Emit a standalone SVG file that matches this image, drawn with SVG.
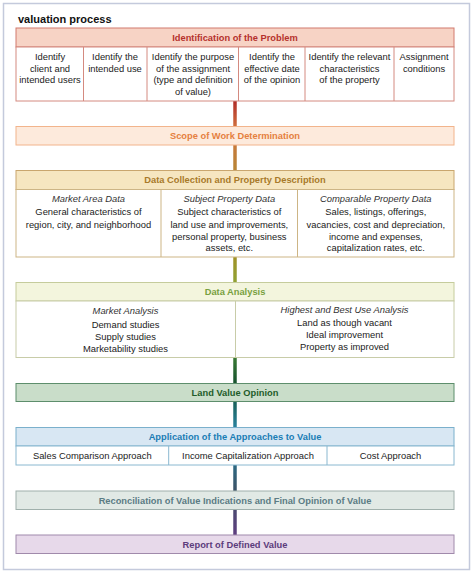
<svg xmlns="http://www.w3.org/2000/svg" width="474" height="574" viewBox="0 0 474 574">
<defs>
<linearGradient id="flow" gradientUnits="userSpaceOnUse" x1="0" y1="101" x2="0" y2="535">
<stop offset="0" stop-color="#b02c28"/>
<stop offset="0.06" stop-color="#d0703e"/>
<stop offset="0.16" stop-color="#b88636"/>
<stop offset="0.36" stop-color="#a09228"/>
<stop offset="0.44" stop-color="#8aa838"/>
<stop offset="0.59" stop-color="#3a7a34"/>
<stop offset="0.65" stop-color="#17532e"/>
<stop offset="0.70" stop-color="#1a6460"/>
<stop offset="0.76" stop-color="#2c86a8"/>
<stop offset="0.84" stop-color="#2c6882"/>
<stop offset="0.90" stop-color="#3e5266"/>
<stop offset="1" stop-color="#5e3e80"/>
</linearGradient>
</defs>
<style>
.t{font-family:"Liberation Sans",Arial,sans-serif;font-size:9.4px;fill:#222;text-anchor:middle}
.i{font-style:italic;fill:#333}
.h{font-family:"Liberation Sans",Arial,sans-serif;font-size:9.3px;font-weight:bold;text-anchor:middle}
.title{font-family:"Liberation Sans",Arial,sans-serif;font-size:11px;font-weight:bold;fill:#111}
.c{stroke:url(#flow);stroke-width:3.5;fill:none}
</style>
<rect x="3.5" y="3.5" width="466" height="566" fill="#fff" stroke="#c4cadc" stroke-width="1.5"/>
<text class="title" x="18" y="23">valuation process</text>

<g id="connectors">
<line class="c" x1="235" y1="101" x2="235" y2="127"/>
<line class="c" x1="235" y1="145" x2="235" y2="171"/>
<line class="c" x1="235" y1="257" x2="235" y2="283"/>
<line class="c" x1="235" y1="357" x2="235" y2="384"/>
<line class="c" x1="235" y1="401" x2="235" y2="428"/>
<line class="c" x1="235" y1="465" x2="235" y2="491"/>
<line class="c" x1="235" y1="509" x2="235" y2="535"/>
</g>

<g id="identification">
<rect x="16" y="28" width="438" height="19" fill="#f7d3c5" stroke="#d27a6e"/>
<text class="h" x="235" y="40.5" fill="#b5312c">Identification of the Problem</text>
<rect x="16" y="47" width="438" height="54" fill="#fff" stroke="#d48a80"/>
<g stroke="#d48a80">
<line x1="83.5" y1="47" x2="83.5" y2="101"/>
<line x1="147" y1="47" x2="147" y2="101"/>
<line x1="238.5" y1="47" x2="238.5" y2="101"/>
<line x1="305" y1="47" x2="305" y2="101"/>
<line x1="394" y1="47" x2="394" y2="101"/>
</g>
<text class="t" x="50" y="60">Identify</text>
<text class="t" x="50" y="71.5">client and</text>
<text class="t" x="50" y="83">intended users</text>
<text class="t" x="115" y="60">Identify the</text>
<text class="t" x="115" y="71.5">intended use</text>
<text class="t" x="193" y="60">Identify the purpose</text>
<text class="t" x="193" y="71.5">of the assignment</text>
<text class="t" x="193" y="83">(type and definition</text>
<text class="t" x="193" y="94.5">of value)</text>
<text class="t" x="272" y="60">Identify the</text>
<text class="t" x="272" y="71.5">effective date</text>
<text class="t" x="272" y="83">of the opinion</text>
<text class="t" x="349.5" y="60">Identify the relevant</text>
<text class="t" x="349.5" y="71.5">characteristics</text>
<text class="t" x="349.5" y="83">of the property</text>
<text class="t" x="424" y="60">Assignment</text>
<text class="t" x="424" y="71.5">conditions</text>
</g>

<g id="scope">
<rect x="16" y="126.5" width="438" height="18.5" fill="#fdeadc" stroke="#f2b48c"/>
<text class="h" x="235" y="139" fill="#e58040">Scope of Work Determination</text>
</g>

<g id="data-collection">
<rect x="16" y="170.5" width="438" height="19" fill="#f6e6c0" stroke="#c9a66e"/>
<text class="h" x="235" y="183" fill="#a87a2a">Data Collection and Property Description</text>
<rect x="16" y="189.5" width="438" height="67.5" fill="#fff" stroke="#cdb585"/>
<g stroke="#cdb585">
<line x1="161" y1="189.5" x2="161" y2="257"/>
<line x1="297.5" y1="189.5" x2="297.5" y2="257"/>
</g>
<text class="t i" x="88.5" y="201.5">Market Area Data</text>
<text class="t" x="88.5" y="215">General characteristics of</text>
<text class="t" x="88.5" y="227.5">region, city, and neighborhood</text>
<text class="t i" x="229.3" y="201.5">Subject Property Data</text>
<text class="t" x="229.3" y="215">Subject characteristics of</text>
<text class="t" x="229.3" y="227.5">land use and improvements,</text>
<text class="t" x="229.3" y="239.5">personal property, business</text>
<text class="t" x="229.3" y="251">assets, etc.</text>
<text class="t i" x="375.8" y="201.5">Comparable Property Data</text>
<text class="t" x="375.8" y="215">Sales, listings, offerings,</text>
<text class="t" x="375.8" y="227.5">vacancies, cost and depreciation,</text>
<text class="t" x="375.8" y="239.5">income and expenses,</text>
<text class="t" x="375.8" y="251">capitalization rates, etc.</text>
</g>

<g id="data-analysis">
<rect x="16" y="282.5" width="438" height="18.5" fill="#f3f5dd" stroke="#c5cc9c"/>
<text class="h" x="235" y="295" fill="#78a040">Data Analysis</text>
<rect x="16" y="301" width="438" height="56.5" fill="#fff" stroke="#c8cca8"/>
<line x1="235.5" y1="301" x2="235.5" y2="357.5" stroke="#c8cca8"/>
<text class="t i" x="125.5" y="314">Market Analysis</text>
<text class="t" x="125.5" y="327.5">Demand studies</text>
<text class="t" x="125.5" y="339.5">Supply studies</text>
<text class="t" x="125.5" y="351.5">Marketability studies</text>
<text class="t i" x="344.5" y="313">Highest and Best Use Analysis</text>
<text class="t" x="344.5" y="326">Land as though vacant</text>
<text class="t" x="344.5" y="338">Ideal improvement</text>
<text class="t" x="344.5" y="350">Property as improved</text>
</g>

<g id="land-value">
<rect x="16" y="383.5" width="438" height="18" fill="#c9ddc9" stroke="#5d8e6c"/>
<text class="h" x="235" y="395.8" fill="#1e5c2a">Land Value Opinion</text>
</g>

<g id="approaches">
<rect x="16" y="427.5" width="438" height="18.5" fill="#d8e7f3" stroke="#7bb0cc"/>
<text class="h" x="235" y="440" fill="#1a7db5">Application of the Approaches to Value</text>
<rect x="16" y="446" width="438" height="19" fill="#fff" stroke="#8ab8d0"/>
<g stroke="#8ab8d0">
<line x1="168.7" y1="446" x2="168.7" y2="465"/>
<line x1="327" y1="446" x2="327" y2="465"/>
</g>
<text class="t" x="92.3" y="458.5">Sales Comparison Approach</text>
<text class="t" x="248" y="458.5">Income Capitalization Approach</text>
<text class="t" x="390.5" y="458.5">Cost Approach</text>
</g>

<g id="reconciliation">
<rect x="16" y="491" width="438" height="18.5" fill="#e1e9e5" stroke="#a0b0ac"/>
<text class="h" x="235" y="503.5" fill="#5b7c84">Reconciliation of Value Indications and Final Opinion of Value</text>
</g>

<g id="report">
<rect x="16" y="535" width="438" height="18.5" fill="#e7d9ea" stroke="#a08aab"/>
<text class="h" x="235" y="547.5" fill="#5c3c7c">Report of Defined Value</text>
</g>
</svg>
